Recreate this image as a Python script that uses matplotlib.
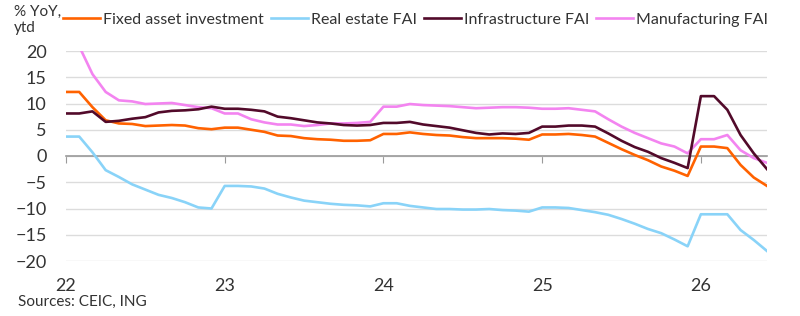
import matplotlib
matplotlib.use("Agg")
import matplotlib.pyplot as plt
import pandas as pd

plt.rcParams['font.family'] = ['Lato', 'DejaVu Sans']

# monthly, Jan 2022 - Jun 2026 (Jan shown with the Jan-Feb value)
months = pd.date_range('2022-01-01', periods=54, freq='MS')

fai = [12.2, 12.2, 9.3, 6.8, 6.2, 6.1, 5.7, 5.8, 5.9, 5.8, 5.3, 5.1,
       5.4, 5.4, 5.0, 4.6, 3.9, 3.8, 3.4, 3.2, 3.1, 2.9, 2.9, 3.0,
       4.2, 4.2, 4.5, 4.2, 4.0, 3.9, 3.6, 3.4, 3.4, 3.4, 3.3, 3.1,
       4.1, 4.1, 4.2, 4.0, 3.7, 2.5, 1.3, 0.2, -0.8, -2.0, -2.8, -3.8,
       1.8, 1.8, 1.5, -1.7, -4.1, -5.7]
real_estate = [3.7, 3.7, 0.7, -2.7, -4.0, -5.4, -6.4, -7.4, -8.0, -8.8, -9.8, -10.0,
               -5.7, -5.7, -5.8, -6.2, -7.2, -7.9, -8.5, -8.8, -9.1, -9.3, -9.4, -9.6,
               -9.0, -9.0, -9.5, -9.8, -10.1, -10.1, -10.2, -10.2, -10.1, -10.3, -10.4, -10.6,
               -9.8, -9.8, -9.9, -10.3, -10.7, -11.2, -12.0, -12.9, -13.9, -14.7, -15.9, -17.2,
               -11.1, -11.1, -11.1, -14.1, -16.0, -18.1]
infra = [8.1, 8.1, 8.5, 6.5, 6.7, 7.1, 7.4, 8.3, 8.6, 8.7, 8.9, 9.4,
         9.0, 9.0, 8.8, 8.5, 7.5, 7.2, 6.8, 6.4, 6.2, 5.9, 5.8, 5.9,
         6.3, 6.3, 6.5, 6.0, 5.7, 5.4, 4.9, 4.4, 4.1, 4.3, 4.2, 4.4,
         5.6, 5.6, 5.8, 5.8, 5.6, 4.3, 2.9, 1.7, 0.8, -0.4, -1.3, -2.3,
         11.4, 11.4, 8.8, 4.0, 0.5, -2.5]
manuf = [20.9, 20.9, 15.6, 12.2, 10.6, 10.4, 9.9, 10.0, 10.1, 9.7, 9.3, 9.1,
         8.1, 8.1, 7.0, 6.4, 6.0, 6.0, 5.7, 5.9, 6.2, 6.2, 6.3, 6.5,
         9.4, 9.4, 9.9, 9.7, 9.6, 9.5, 9.3, 9.1, 9.2, 9.3, 9.3, 9.2,
         9.0, 9.0, 9.1, 8.8, 8.5, 7.0, 5.6, 4.4, 3.4, 2.4, 1.8, 0.5,
         3.2, 3.2, 4.0, 1.1, -0.4, -1.3]

years = [22, 23, 24, 25, 26]
x = months.year - 2000 + (months.month - 1) / 12

fig = plt.figure(figsize=(8, 3.16), dpi=100)
ax = fig.add_axes([66 / 800, 55 / 316, 701 / 800, 210 / 316])

lw = 1.9
ax.plot(x, fai, color='#FF6200', lw=lw, label='Fixed asset investment', zorder=3)
ax.plot(x, real_estate, color='#89D3F8', lw=lw, label='Real estate FAI', zorder=3)
ax.plot(x, infra, color='#520A2A', lw=lw, label='Infrastructure FAI', zorder=4)
ax.plot(x, manuf, color='#F384F0', lw=lw, label='Manufacturing FAI', zorder=3)

ax.set_xlim(x[0], x[-1])
ax.set_ylim(-20, 20)
ax.set_yticks(range(-20, 21, 5))
ax.yaxis.grid(True, color='#dcdcdc', lw=1)
ax.set_axisbelow(True)
for s in ['left', 'right', 'top']:
    ax.spines[s].set_visible(False)
ax.spines['bottom'].set_position(('data', 0))
ax.spines['bottom'].set_color('#9a9a9a')
ax.spines['bottom'].set_linewidth(1.2)
ax.set_xticks(years)
ax.tick_params(axis='x', direction='out', length=5, color='#9a9a9a', labelbottom=False)
ax.tick_params(axis='y', length=0, pad=14, labelsize=13, labelcolor='#333333')

sec = ax.secondary_xaxis('bottom')
sec.set_xticks(years)
sec.set_xticklabels([str(y) for y in years])
sec.spines['bottom'].set_visible(False)
sec.tick_params(length=0, pad=12, labelsize=13, labelcolor='#333333')

fig.text(14 / 800, 1 - 5 / 316, '% YoY,\nytd', ha='left', va='top', fontsize=11,
         color='#333333', linespacing=1.15)
fig.legend(loc='center left', bbox_to_anchor=(63 / 800, 1 - 20 / 316), ncol=4, frameon=False,
           fontsize=11.5, handlelength=2.3, handletextpad=0.2, columnspacing=0.45,
           borderpad=0, borderaxespad=0, labelcolor='#333333')
fig.text(18 / 800, 1 - 302 / 316, 'Sources: CEIC, ING', ha='left', va='center',
         fontsize=11, color='#333333')

fig.savefig('out.png', dpi=100)
